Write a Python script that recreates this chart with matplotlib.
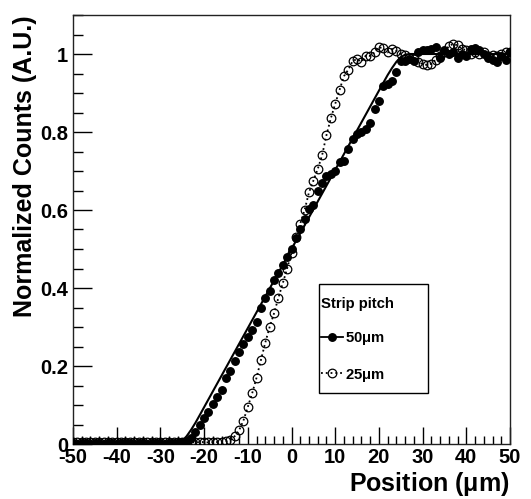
import numpy as np
import matplotlib
matplotlib.use('Agg')
import matplotlib.pyplot as plt
from matplotlib.ticker import MultipleLocator, FuncFormatter
from matplotlib.lines import Line2D
from matplotlib.patches import Rectangle

# ---------------- data ----------------
position = np.arange(-50, 51)  # micrometres

counts_50um = [
    0.002, 0.001, 0.002, 0.002, 0.001, 0.002, 0.002, 0.001, 0.002, 0.002,   # -50..-41
    0.001, 0.002, 0.002, 0.002, 0.001, 0.002, 0.002, 0.001, 0.002, 0.002,   # -40..-31
    0.002, 0.001, 0.002, 0.002, 0.003, 0.004, 0.008,                        # -30..-24
    0.015, 0.032, 0.049, 0.066, 0.081, 0.102, 0.120, 0.139, 0.169, 0.186,   # -23..-14
    0.212, 0.236, 0.256, 0.274, 0.293, 0.314, 0.349, 0.374, 0.392, 0.420,   # -13..-4
    0.439, 0.460, 0.480, 0.500,                                             # -3..0
    0.529, 0.550, 0.576, 0.602, 0.614, 0.649, 0.670, 0.687, 0.692, 0.700,   # 1..10
    0.722, 0.726, 0.756, 0.781, 0.794, 0.799, 0.807, 0.824, 0.859, 0.880,   # 11..20
    0.918, 0.923, 0.931, 0.953, 0.983, 0.983, 0.987, 0.983, 1.004, 1.009,   # 21..30
    1.009, 1.013, 1.017, 0.991, 1.009, 1.000, 1.004, 0.991, 1.000, 0.995,   # 31..40
    1.013, 1.015, 1.010, 1.000, 0.990, 0.985, 0.980, 0.995, 0.985, 1.005,   # 41..50
]

counts_25um = [
    0.005, 0.004, 0.005, 0.005, 0.004, 0.005, 0.005, 0.004, 0.005, 0.005,   # -50..-41
    0.004, 0.005, 0.005, 0.004, 0.005, 0.005, 0.004, 0.005, 0.005, 0.004,   # -40..-31
    0.005, 0.005, 0.004, 0.005, 0.005, 0.004, 0.005, 0.005, 0.004, 0.005,   # -30..-21
    0.005, 0.004, 0.005, 0.005, 0.006,                                      # -20..-16
    0.007, 0.010, 0.020, 0.035, 0.060, 0.095, 0.130, 0.170, 0.215, 0.260,   # -15..-6
    0.300, 0.335, 0.375, 0.412, 0.450, 0.490,                               # -5..0
    0.530, 0.565, 0.600, 0.645, 0.675, 0.705, 0.740, 0.792, 0.835, 0.872,   # 1..10
    0.908, 0.943, 0.960, 0.982, 0.987, 0.980, 0.996, 0.995, 1.004, 1.017,   # 11..20
    1.015, 1.004, 1.013, 1.008, 1.000, 0.998, 0.990, 0.987, 0.980, 0.974,   # 21..30
    0.972, 0.975, 0.985, 0.995, 1.005, 1.020, 1.026, 1.022, 1.013, 1.010,   # 31..40
    1.000, 1.005, 1.000, 1.004, 0.996, 0.998, 0.995, 1.000, 1.004, 1.005,   # 41..50
]

# fitted response for the 50 um pitch (solid line)
fit_x = [-50, -27, -26, -25, -24, -23, -22, -21, 0, 21, 22, 23, 24, 25, 26, 27, 50]
fit_y = [0.0, 0.0, 0.002, 0.008, 0.020, 0.036, 0.054, 0.074, 0.500,
         0.926, 0.946, 0.964, 0.980, 0.992, 0.998, 1.0, 1.0]

x_ticks = [-50, -40, -30, -20, -10, 0, 10, 20, 30, 40, 50]
y_ticks = [0, 0.2, 0.4, 0.6, 0.8, 1.0]
legend_title = 'Strip pitch'
legend_labels = ['50$\\mathregular{\\mu}$m', '25$\\mathregular{\\mu}$m']

# ---------------- style ----------------
plt.rcParams['font.family'] = ['Liberation Sans', 'DejaVu Sans']
plt.rcParams['font.weight'] = 'bold'
plt.rcParams['axes.unicode_minus'] = False
plt.rcParams['mathtext.default'] = 'regular'

W, H = 531, 499
fig = plt.figure(figsize=(W / 100, H / 100), dpi=100)
L, R, T, B = 73, 510, 15, 444
ax = fig.add_axes([L / W, 1 - B / H, (R - L) / W, (B - T) / H])

ax.plot(fit_x, fit_y, '-', color='black', lw=1.5, zorder=2)
ax.plot(position, counts_50um, ls='none', marker='o', color='black',
        ms=5.4, zorder=3)
ax.plot(position, counts_25um, ls=':', lw=1.3, color='black', marker='o',
        mfc='none', mec='black', ms=6.2, mew=0.9, zorder=4)

ax.set_xlim(-50, 50)
ax.set_ylim(0, 1.1)
ax.set_xticks(x_ticks)
ax.set_yticks(y_ticks)
ax.xaxis.set_minor_locator(MultipleLocator(2))
ax.yaxis.set_minor_locator(MultipleLocator(0.05))
ax.xaxis.set_major_formatter(FuncFormatter(lambda v, p: f'{v:g}'))
ax.yaxis.set_major_formatter(FuncFormatter(lambda v, p: f'{v:g}'))
ax.tick_params(which='both', direction='in', top=False, right=False,
               width=1.0, labelsize=14.5, colors='black')
ax.tick_params(axis='x', which='major', length=12, pad=3)
ax.tick_params(axis='x', which='minor', length=6)
ax.tick_params(axis='y', which='major', length=14, pad=3.5)
ax.tick_params(axis='y', which='minor', length=7)
for s in ax.spines.values():
    s.set_linewidth(1.0)
    s.set_color('#222222')

ax.set_xlabel('Position ($\\mathregular{\\mu}$m)', fontsize=18, fontweight='bold',
              loc='right', labelpad=2)
ax.set_ylabel('Normalized Counts (A.U.)', fontsize=18, fontweight='bold',
              loc='top')
ax.yaxis.set_label_coords((37 - L) / (R - L), 1.0)

# legend
h50 = Line2D([], [], color='black', ls='-', lw=1.3, marker='o', ms=5.4)
h25 = Line2D([], [], color='black', ls=':', lw=1.3, marker='o', mfc='none',
             mec='black', ms=6.2, mew=0.9)
leg = fig.legend([h50, h25], legend_labels, title=legend_title,
                 loc='upper left', bbox_to_anchor=(321 / W, 1 - 297 / H),
                 frameon=False, prop={'size': 10.7, 'weight': 'bold'},
                 title_fontproperties={'size': 10.7, 'weight': 'bold'},
                 alignment='left', handlelength=1.45, handletextpad=0.15,
                 labelspacing=1.3, borderpad=0.0, borderaxespad=0.0)
fig.add_artist(Rectangle((319 / W, 1 - 393 / H), 109 / W, 109 / H,
                         transform=fig.transFigure, fill=False,
                         edgecolor='black', lw=1.0))

fig.savefig('out.png', dpi=100)
